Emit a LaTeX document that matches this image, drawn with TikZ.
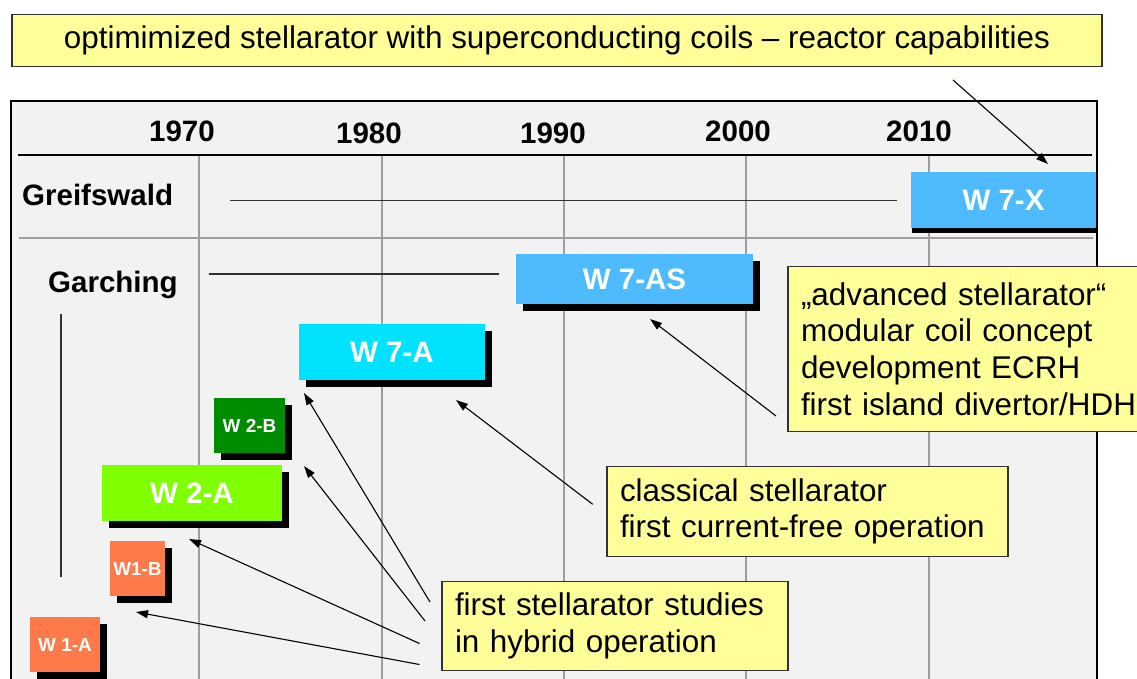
\documentclass[tikz,border=0pt]{standalone}
\usepackage{fontspec}
\setmainfont{Liberation Sans}
\usetikzlibrary{arrows.meta,shadows}
\definecolor{framebg}{RGB}{242,242,242}
\definecolor{gridgray}{RGB}{158,158,158}
\definecolor{tlgray}{RGB}{50,50,50}
\definecolor{notefill}{RGB}{255,255,153}
\definecolor{noteedge}{RGB}{50,50,50}
\definecolor{skyblue}{RGB}{79,187,255}
\definecolor{cyanbox}{RGB}{0,226,255}
\definecolor{limebox}{RGB}{128,255,0}
\definecolor{greenbox}{RGB}{0,140,0}
\definecolor{coralbox}{RGB}{255,122,74}
\tikzset{
  machine/.style={draw=none, text=white, inner sep=0pt,
    general shadow={fill=black, shadow xshift=6.5pt, shadow yshift=-6.5pt}},
  edgemachine/.style={draw=none, text=white, inner sep=0pt,
    general shadow={fill=black, shadow xshift=1pt, shadow yshift=-5.5pt}},
  bigname/.style={font=\fontsize{29.5}{34}\selectfont\bfseries},
  smallname/.style={font=\fontsize{18.9}{22}\selectfont\bfseries},
  note/.style={draw=noteedge, line width=1.3pt, fill=notefill, inner xsep=13pt,
    inner ysep=0pt, align=left, font=\fontsize{31.4}{36.7}\selectfont},
  yearlabel/.style={font=\fontsize{29.5}{34}\selectfont\bfseries, inner sep=0pt, anchor=base},
  rowlabel/.style={font=\fontsize{29.5}{34}\selectfont\bfseries, inner sep=0pt, anchor=base west},
  gridline/.style={draw=gridgray, line width=1.6pt},
  tline/.style={draw=tlgray, line width=1.3pt},
  pointer/.style={-{Triangle[length=12pt,width=8pt]}, line width=1.1pt, black},
}
\begin{document}
\begin{tikzpicture}[x=1pt,y=-1pt]
\useasboundingbox (0,0) rectangle (1137,678);
\clip (0,0) rectangle (1137,678);
\fill[white] (0,0) rectangle (1137,678);
% frame
\draw[line width=2.6pt, fill=framebg] (11,101) rectangle (1097,720);
% grid
\foreach \gx in {199,382,564,746,929} \draw[gridline] (\gx,156) -- (\gx,700);
\draw[gridline] (19,237.7) -- (1093,237.7);
\draw[line width=2pt] (18,155) -- (1092,155);
% years
\node[yearlabel] (y1970) at (182,141) {1970};
\node[yearlabel] (y1980) at (369,143.3) {1980};
\node[yearlabel] (y1990) at (553,143.3) {1990};
\node[yearlabel] (y2000) at (738,141) {2000};
\node[yearlabel] (y2010) at (919,141) {2010};
% rows
\node[rowlabel] (greifswald) at (22,205) {Greifswald};
\node[rowlabel] (garching) at (48,292) {Garching};
\draw[tline] (230,200.7) -- (897,200.7);
\draw[tline] (209,274) -- (499,274);
\draw[tline] (61,314) -- (61,577);
% machines
\node[edgemachine, bigname, fill=skyblue, minimum width=185, minimum height=55.5] (w7x) at (1003.5,200) {W 7-X};
\node[machine, bigname, fill=skyblue, minimum width=237, minimum height=50] (w7as) at (634.5,279) {W 7-AS};
\node[machine, bigname, fill=cyanbox, minimum width=186, minimum height=56] (w7a) at (392,352) {W 7-A};
\node[machine, smallname, fill=greenbox, minimum width=71, minimum height=55] (w2b) at (249.5,425.5) {W 2-B};
\node[machine, bigname, fill=limebox, minimum width=180, minimum height=56] (w2a) at (192,493) {W 2-A};
\node[machine, smallname, fill=coralbox, minimum width=55, minimum height=55] (w1b) at (137.5,568.5) {W1-B};
\node[machine, smallname, fill=coralbox, minimum width=70, minimum height=55] (w1a) at (65,644.5) {W 1-A};
% notes
\node[note, minimum width=1090, minimum height=52, align=center] (goal) at (557,40.5) {optimimized stellarator with superconducting coils -- reactor capabilities};
\node[note, text width=340, minimum height=165] (advanced) at (971,349) {„advanced stellarator“\\modular coil concept\\development ECRH\\first island divertor/HDH};
\node[note, text width=375, minimum height=90] (classical) at (807.5,511.5) {classical stellarator\\first current-free operation};
\node[note, text width=320, minimum height=89] (hybrid) at (615,626) {first stellarator studies\\in hybrid operation};
% arrow ends
\coordinate (g1) at (953,80);   \coordinate (t1) at (1048,164);
\coordinate (a1) at (776,416);  \coordinate (t2) at (650,319);
\coordinate (c1) at (592.7,504.3); \coordinate (t3) at (456,400);
\coordinate (h1) at (430,602);  \coordinate (t4) at (304,393);
\coordinate (h2) at (425,621);  \coordinate (t5) at (304,466);
\coordinate (h3) at (419.5,643.5); \coordinate (t6) at (189,539);
\coordinate (h4) at (419.5,664.5); \coordinate (t7) at (136,612);
\draw[pointer] (g1) -- (t1);
\draw[pointer] (a1) -- (t2);
\draw[pointer] (c1) -- (t3);
\draw[pointer] (h1) -- (t4);
\draw[pointer] (h2) -- (t5);
\draw[pointer] (h3) -- (t6);
\draw[pointer] (h4) -- (t7);
\end{tikzpicture}
\end{document}
